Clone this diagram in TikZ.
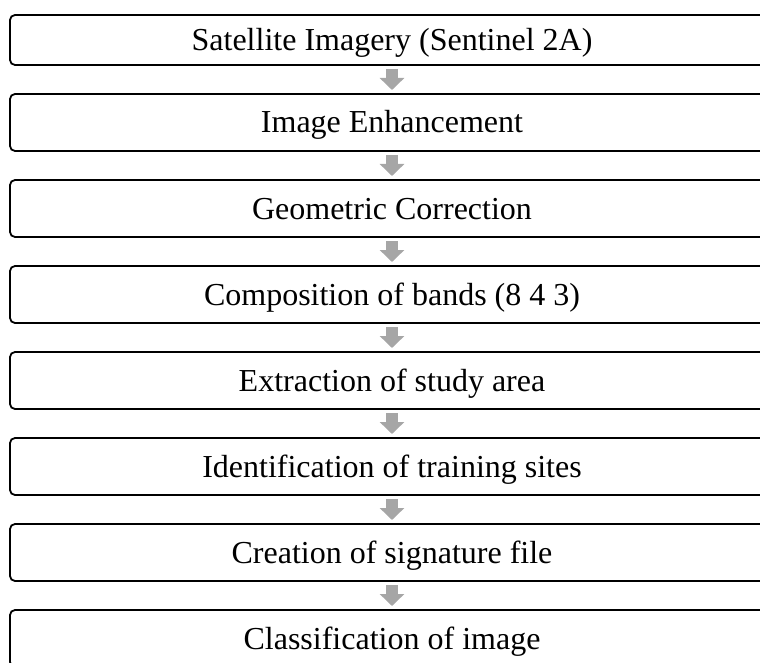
\documentclass[tikz,border=0pt]{standalone}
\usepackage{fontspec}
\setmainfont{Liberation Serif}
\usetikzlibrary{arrows.meta,positioning}
\definecolor{flowgray}{HTML}{A6A6A6}
\tikzset{
  stage/.style={draw,rounded corners=5pt,line width=1.8pt,minimum width=764pt,
    minimum height=57pt,inner sep=0pt,outer sep=0pt,text height=21pt,text depth=0pt,
    font=\fontsize{32}{38}\selectfont},
  flow/.style={draw=flowgray,line width=12pt,
    -{Triangle[width=24pt,length=12pt]},shorten <=4pt,shorten >=4pt}}

\begin{document}
\begin{tikzpicture}[x=1pt,y=1pt,node distance=29pt]
\useasboundingbox (0,0) rectangle (760,-663);
% processing chain, one box per step; the boxes run past the right edge
\node[stage,minimum height=50pt] (imagery) at (392,-40) {Satellite Imagery (Sentinel 2A)};
\node[stage,below=of imagery] (enhance) {Image Enhancement};
\node[stage,below=of enhance] (georef) {Geometric Correction};
\node[stage,below=of georef] (bands) {Composition of bands (8 4 3)};
\node[stage,below=of bands] (subset) {Extraction of study area};
\node[stage,below=of subset] (training) {Identification of training sites};
\node[stage,below=of training] (signature) {Creation of signature file};
\node[stage,below=of signature] (classify) {Classification of image};
\foreach \a/\b in {imagery/enhance,enhance/georef,georef/bands,bands/subset,
  subset/training,training/signature,signature/classify}
  \draw[flow] (\a.south) -- (\b.north);
\end{tikzpicture}
\end{document}
